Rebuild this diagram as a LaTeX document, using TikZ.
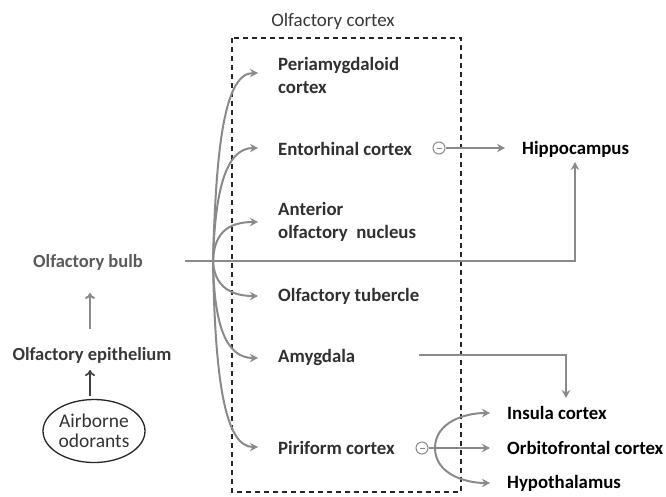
\documentclass[tikz,border=0pt]{standalone}
\usepackage{fontspec}
\setmainfont{Carlito}
\usetikzlibrary{arrows.meta,shapes.geometric,calc}
\definecolor{arr}{HTML}{8A8A8A}
\definecolor{lbl}{HTML}{303030}
\definecolor{bulbc}{HTML}{5A5A5A}
\tikzset{
  lab/.style={font=\bfseries\fontsize{18.8}{22}\selectfont, text=lbl, anchor=west, inner sep=0pt, align=left},
  rlab/.style={font=\bfseries\fontsize{18.8}{22}\selectfont, text=black, anchor=west, inner sep=0pt},
  conn/.style={draw=arr, line width=2pt, -{Stealth[length=8pt,width=8.5pt]}},
  inh/.style={circle, draw=arr, line width=1pt, minimum size=12pt, inner sep=0pt, fill=white},
}
\begin{document}
\begin{tikzpicture}[x=1pt,y=-1pt]
\useasboundingbox (0,0) rectangle (666,496);
% box
\draw[line width=1.1pt, dash pattern=on 5pt off 4pt, black!85] (232,38) rectangle (461,492);
\node[font=\fontsize{19}{22}\selectfont, text=black!78] (title) at (333,21) {Olfactory cortex};
% left column
\node[font=\bfseries\fontsize{18.5}{22}\selectfont, text=bulbc, inner sep=0pt] (bulb) at (88,262) {Olfactory bulb};
\node[font=\bfseries\fontsize{18.5}{22}\selectfont, text=black!78, inner sep=0pt] (epi) at (92,355) {Olfactory epithelium};
\node[ellipse, draw=black!85, line width=1.3pt, minimum width=102pt, minimum height=63pt, inner sep=0pt, align=center,
      font=\fontsize{19.5}{20}\selectfont, text=black!80] (air) at (94,431) {Airborne\\odorants};
\coordinate (bu0) at (90,329);
\coordinate (bu1) at (90,293);
\draw[draw=arr, line width=2pt, -{To[length=6pt,width=10pt]}] (bu0) -- (bu1);
\coordinate (ep0) at (90,396);
\coordinate (ep1) at (90,370);
\draw[draw=black!75, line width=1.7pt, -{To[length=6pt,width=10pt]}] (ep0) -- (ep1);
% cortex labels
\node[lab] (peri) at (278,75) {Periamygdaloid\\[1pt]cortex};
\node[lab] (ento) at (278,149) {Entorhinal cortex};
\node[lab] (ant) at (278,222) {Anterior\\[1pt]olfactory\ \ nucleus};
\node[lab] (tub) at (278,296) {Olfactory tubercle};
\node[lab] (amy) at (278,357) {Amygdala};
\node[lab] (piri) at (278,448) {Piriform cortex};
% targets
\node[rlab] (hip) at (522,149) {Hippocampus};
\node[rlab] (ins) at (507,413) {Insula cortex};
\node[rlab] (orb) at (507,448) {Orbitofrontal cortex};
\node[rlab] (hyp) at (507,483) {Hypothalamus};
% branch
\coordinate (br) at (213,261);
\coordinate (tp) at (258,73);
\coordinate (te) at (258,148);
\coordinate (ta) at (258,222);
\coordinate (tt) at (258,296);
\coordinate (tm) at (258,358);
\coordinate (tpi) at (258,447);
\draw[conn] (br) .. controls (216,150) and (224,73) .. (tp);
\draw[conn] (br) .. controls (215,190) and (226,148) .. (te);
\draw[conn] (br) .. controls (214,235) and (226,222) .. (ta);
\draw[conn] (br) .. controls (214,282) and (226,296) .. (tt);
\draw[conn] (br) .. controls (214,320) and (224,358) .. (tm);
\draw[conn] (br) .. controls (215,380) and (225,447) .. (tpi);
% bulb line to hippocampus
\coordinate (b0) at (185,261);
\coordinate (b1) at (575,261);
\coordinate (hipb) at (575,162);
\draw[conn] (b0) -- (b1) -- (hipb);
% entorhinal to hippocampus
\node[inh] (c1) at (439,148) {};
\draw[draw=arr, line width=0.8pt] ($(c1.center)+(-2.5,0)$) -- ($(c1.center)+(2.5,0)$);
\coordinate (he) at (505,148);
\draw[conn] (c1.east) -- (he);
% amygdala to insula
\coordinate (a0) at (419,355);
\coordinate (a1) at (566,355);
\coordinate (a2) at (566,398);
\draw[conn] (a0) -- (a1) -- (a2);
% piriform branches
\node[inh] (c2) at (422,448) {};
\draw[draw=arr, line width=0.8pt] ($(c2.center)+(-2.5,0)$) -- ($(c2.center)+(2.5,0)$);
\coordinate (pb) at (435,448);
\coordinate (pi) at (490,413);
\coordinate (po) at (490,448);
\coordinate (ph) at (490,483);
\draw[conn] (c2.east) -- (po);
\draw[conn] (pb) to[out=90,in=180] (pi);
\draw[conn] (pb) to[out=-90,in=180] (ph);
\end{tikzpicture}
\end{document}
